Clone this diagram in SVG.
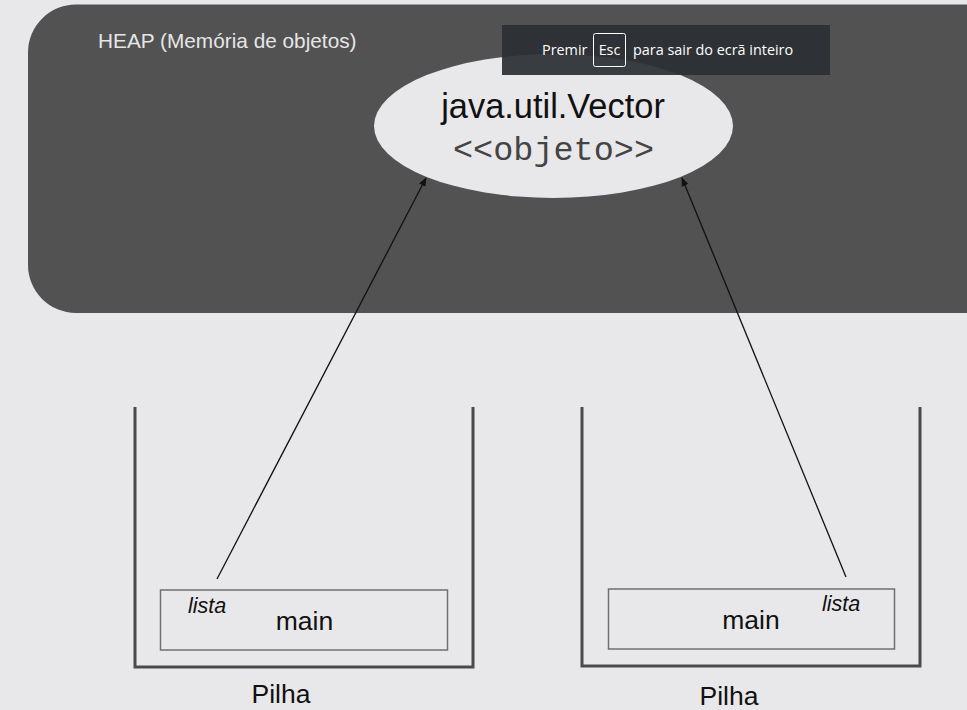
<svg xmlns="http://www.w3.org/2000/svg" width="967" height="710" viewBox="0 0 967 710">
<style>
.sans{font-family:"Liberation Sans",Arial,sans-serif}
.ui{font-family:"Open Sans","Noto Sans",sans-serif;font-size:14.4px;fill:#ffffff}
.wall{fill:none;stroke:#4a4a4a;stroke-width:3}
.frame{fill:none;stroke:#707070;stroke-width:1.5}
.conn{stroke:#111;stroke-width:1.3;fill:none}
</style>
<defs>
<marker id="ah" viewBox="0 0 10 10" refX="9" refY="5" markerWidth="9" markerHeight="9" markerUnits="userSpaceOnUse" orient="auto">
<path d="M0,1 L10,5 L0,9 Z" fill="#111"/>
</marker>
</defs>
<rect width="967" height="710" fill="#e8e7ea"/>
<g id="heap">
<path d="M76,4.5 H967 V313 H76 A48,48 0 0 1 28,265 V52 A48,48 0 0 1 76,4.5 Z" fill="#525252"/>
<text class="sans" x="98" y="48" font-size="20.8" fill="#e6e6e6">HEAP (Memória de objetos)</text>
</g>
<g id="vector">
<ellipse cx="553.5" cy="126" rx="179.5" ry="72" fill="#e8e7ea"/>
<text class="sans" x="553" y="118" font-size="34.4" text-anchor="middle" fill="#111">java.util.Vector</text>
<text x="553.5" y="160" font-size="33.5" text-anchor="middle" fill="#444" font-family="'Liberation Mono','Courier New',monospace">&lt;&lt;objeto&gt;&gt;</text>
</g>
<g id="stack-left">
<path class="wall" d="M135,407 V667 H473 V407"/>
<rect class="frame" x="160.5" y="590" width="287" height="60"/>
<text class="sans" x="188" y="613" font-size="21.5" font-style="italic" fill="#111">lista</text>
<text class="sans" x="304.5" y="630" font-size="26.5" text-anchor="middle" fill="#111">main</text>
<text class="sans" x="281" y="703" font-size="26.5" text-anchor="middle" fill="#111">Pilha</text>
</g>
<g id="stack-right">
<path class="wall" d="M582,407 V666 H920 V407"/>
<rect class="frame" x="608.5" y="589" width="286" height="60"/>
<text class="sans" x="822" y="611" font-size="21.5" font-style="italic" fill="#111">lista</text>
<text class="sans" x="751" y="629" font-size="26.5" text-anchor="middle" fill="#111">main</text>
<text class="sans" x="729" y="705" font-size="26.5" text-anchor="middle" fill="#111">Pilha</text>
</g>
<g id="connectors">
<line class="conn" x1="217" y1="579" x2="426" y2="178" marker-end="url(#ah)"/>
<line class="conn" x1="846" y1="577" x2="682" y2="178" marker-end="url(#ah)"/>
</g>
<g id="toast">
<rect x="502" y="25" width="328" height="50" fill="#2b2e33" fill-opacity="0.93"/>
<text class="ui" x="542" y="55">Premir</text>
<rect x="593.5" y="33.5" width="32" height="33" rx="2" fill="none" stroke="#ffffff" stroke-width="1"/>
<text class="ui" x="609.5" y="55" text-anchor="middle">Esc</text>
<text class="ui" x="633" y="55">para sair do ecrã inteiro</text>
</g>
</svg>
